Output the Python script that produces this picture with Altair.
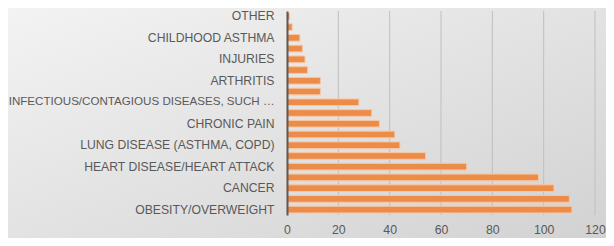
import altair as alt
import pandas as pd

labels = ["OTHER", "", "CHILDHOOD ASTHMA", "", "INJURIES", "", "ARTHRITIS", "",
          "INFECTIOUS/CONTAGIOUS DISEASES, SUCH …", "", "CHRONIC PAIN", "",
          "LUNG DISEASE (ASTHMA, COPD)", "", "HEART DISEASE/HEART ATTACK", "",
          "CANCER", "", "OBESITY/OVERWEIGHT"]
values = [1, 2, 5, 6, 7, 8, 13, 13, 28, 33, 36, 42, 44, 54, 70, 98, 104, 110, 111]
x_ticks = [0, 20, 40, 60, 80, 100, 120]

W, H = 308, 204
PL, PT, PR, PB = 279, 3, 11, 23

df = pd.DataFrame({"idx": list(range(len(values))), "label": labels, "value": values})
grid_df = pd.DataFrame({"tick": x_ticks[1:]})

label_arr = "[" + ",".join("'" + l.replace("'", "\\'") + "'" for l in labels) + "]"
long_idx = max(range(len(labels)), key=lambda i: len(labels[i]))

bg = alt.Chart(pd.DataFrame({"a": [0]})).mark_rect(
    color=alt.Gradient(
        gradient="linear", x1=0, y1=0, x2=1, y2=1,
        stops=[alt.GradientStop(offset=0, color="#f3f3f3"),
               alt.GradientStop(offset=1, color="#d2d2d2")]
    )
).encode(
    x=alt.value(-PL), x2=alt.value(W + PR),
    y=alt.value(-PT), y2=alt.value(H + PB)
)

grid = alt.Chart(grid_df).mark_rule(color="#bfbfbf", strokeWidth=1).encode(
    x=alt.X("tick:Q")
)

bars = alt.Chart(df).mark_bar(
    color="#ED8B48", stroke="#F6C7A4", strokeWidth=1
).encode(
    y=alt.Y("idx:O", sort="ascending",
            scale=alt.Scale(paddingInner=0.38, paddingOuter=0.19),
            axis=alt.Axis(title=None, labelExpr=label_arr + "[datum.value]",
                          ticks=False, domain=True, domainColor="#595959",
                          domainWidth=2, labelPadding=13,
                          labelFontSize={"condition": {"test": f"datum.value == {long_idx}", "value": 11.6},
                                         "value": 12.2},
                          labelColor="#595959", labelFont="Liberation Sans",
                          labelLimit=272, grid=False, zindex=1)),
    x=alt.X("value:Q", scale=alt.Scale(domain=[0, 120], nice=False),
            axis=alt.Axis(title=None, values=x_ticks, grid=False,
                          domain=False, ticks=False, labelPadding=8,
                          labelFontSize=12.3, labelColor="#595959",
                          labelFlush=False,
                          labelFont="Liberation Sans", zindex=1))
)

chart = alt.layer(bg, grid, bars).properties(
    width=W, height=H,
    autosize=alt.AutoSizeParams(type="none"),
    padding={"left": PL, "top": PT, "right": PR, "bottom": PB},
    background="#e0e0e0"
).configure_view(stroke=None)

chart.save("out.html", embed_options={"renderer": "svg", "actions": False})
